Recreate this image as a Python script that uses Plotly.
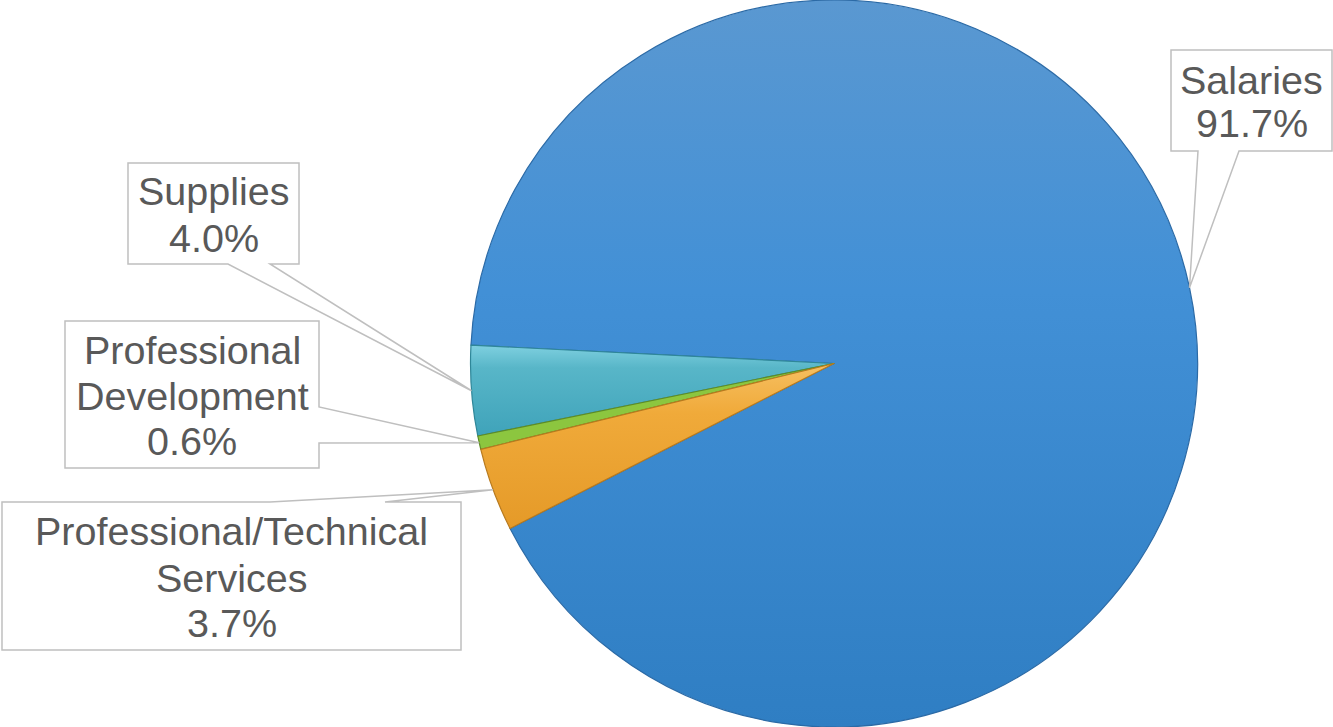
import math
import plotly.graph_objects as go

# ---- data ----
categories = ["Salaries", "Supplies", "Professional Development", "Professional/Technical Services"]
percent = [91.7, 4.0, 0.6, 3.7]
pct_labels = ["91.7%", "4.0%", "0.6%", "3.7%"]
label_lines = [["Salaries"], ["Supplies"], ["Professional", "Development"], ["Professional/Technical", "Services"]]
colors = ["#3F8CD2", "#4EB2C6", "#8CC63F", "#F0AA3A"]
edge_colors = ["#2B6AA6", "#2F8799", "#5E8C26", "#B87A1E"]

W, H = 1333, 727
ROT = -87.1  # degrees, start of first slice
dom_x = [470.5 / W, 1197.5 / W]
dom_y = [0.0, 1.0]

fig = go.Figure(go.Pie(
    labels=categories, values=percent, sort=False, direction="counterclockwise",
    rotation=ROT, textinfo="none", hoverinfo="label+percent",
    marker=dict(colors=colors, line=dict(color=edge_colors, width=1.2)),
    domain=dict(x=dom_x, y=dom_y), showlegend=False,
))

# pie geometry in pixels (same as plotly's)
cx = (dom_x[0] + dom_x[1]) / 2 * W
cy = H - (dom_y[0] + dom_y[1]) / 2 * H
R = min((dom_x[1] - dom_x[0]) * W, (dom_y[1] - dom_y[0]) * H) / 2
total = sum(percent)

# slice mid angles (clockwise from 12 o'clock), counterclockwise layout
mid = []
cur = ROT + percent[0] / total * 360.0
for v in percent:
    span = v / total * 360.0
    mid.append(cur - span / 2)
    cur -= span


def tip(i):
    a = math.radians(mid[i])
    return (cx + R * math.sin(a), cy - R * math.cos(a))


def P(x, y):
    return f"{x / W:.5f},{1 - y / H:.5f}"


# callout boxes (pixel layout)
boxes = [
    dict(x0=1171, y0=50, x1=1332, y1=151, side="bottom", a=1198, b=1239, lines=[80, 123]),
    dict(x0=128, y0=163, x1=299, y1=264, side="bottom", a=228, b=270, lines=[191, 238]),
    dict(x0=65, y0=321, x1=319, y1=468, side="right", a=407, b=443, lines=[350, 396, 441]),
    dict(x0=2, y0=502, x1=461, y1=650, side="top", a=270, b=385, lines=[531, 578, 623]),
]

shapes = []
annotations = []
for i, bx in enumerate(boxes):
    tx, ty = tip(i)
    x0, y0, x1, y1 = bx["x0"], bx["y0"], bx["x1"], bx["y1"]
    if bx["side"] == "bottom":
        pts = [(x0, y0), (x1, y0), (x1, y1), (bx["b"], y1), (tx, ty), (bx["a"], y1), (x0, y1)]
    elif bx["side"] == "right":
        pts = [(x0, y0), (x1, y0), (x1, bx["a"]), (tx, ty), (x1, bx["b"]), (x1, y1), (x0, y1)]
    else:  # top
        pts = [(x0, y0), (bx["a"], y0), (tx, ty), (bx["b"], y0), (x1, y0), (x1, y1), (x0, y1)]
    path = "M " + " L ".join(P(x, y) for x, y in pts) + " Z"
    shapes.append(dict(type="path", path=path, xref="paper", yref="paper",
                       fillcolor="white", line=dict(color="#BFBFBF", width=1.5), layer="above"))
    texts = label_lines[i] + [pct_labels[i]]
    xc = (x0 + x1) / 2
    for t, yl in zip(texts, bx["lines"]):
        annotations.append(dict(text=t, x=xc / W, y=1 - yl / H, xref="paper", yref="paper",
                                xanchor="center", yanchor="middle", showarrow=False,
                                font=dict(family="Liberation Sans, Arial", size=39.5, color="#595959")))

fig.update_layout(width=W, height=H, margin=dict(l=0, r=0, t=0, b=0),
                  paper_bgcolor="white", plot_bgcolor="white",
                  shapes=shapes, annotations=annotations)

post = """
document.body.style.margin='0';document.body.style.overflow='hidden';
(function(){
  var gd=document.getElementById('{plot_id}');
  var svg=gd.querySelector('svg.main-svg');
  var ns='http://www.w3.org/2000/svg';
  var defs=svg.querySelector('defs');
  if(!defs){defs=document.createElementNS(ns,'defs');svg.insertBefore(defs,svg.firstChild);}
  function grad(id,stops){
    var g=document.createElementNS(ns,'linearGradient');
    g.setAttribute('id',id);g.setAttribute('x1','0');g.setAttribute('y1','0');
    g.setAttribute('x2','0');g.setAttribute('y2','1');
    stops.forEach(function(s){var st=document.createElementNS(ns,'stop');
      st.setAttribute('offset',s[0]);st.setAttribute('stop-color',s[1]);g.appendChild(st);});
    defs.appendChild(g);
  }
  grad('gSal',[['0','#5A98D1'],['0.4','#4290D6'],['1','#2F7EC3']]);
  grad('gSup',[['0','#7FD0E0'],['0.25','#58B6C8'],['1','#3FA3BA']]);
  grad('gOra',[['0','#F6C062'],['0.3','#F0AA3A'],['1','#E59A28']]);
  var p=gd.querySelectorAll('g.slice path.surface');
  if(p.length>=4){p[0].style.fill='url(#gSal)';p[1].style.fill='url(#gSup)';p[3].style.fill='url(#gOra)';}
})();
"""
fig.write_html("out.html", config={"displayModeBar": False}, post_script=post)
